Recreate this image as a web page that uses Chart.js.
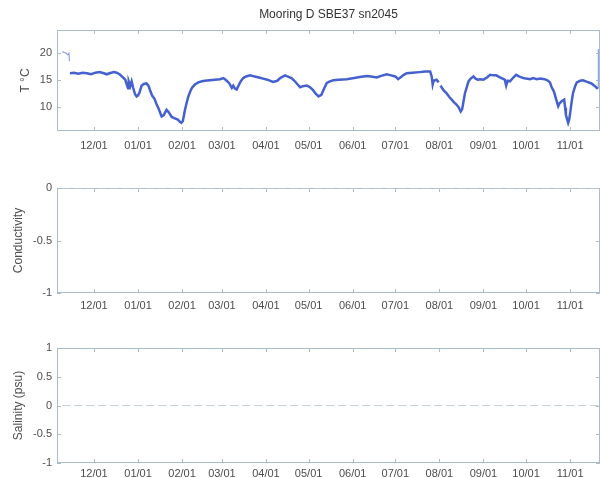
<!DOCTYPE html>
<html>
<head>
<meta charset="utf-8">
<script src="https://cdn.jsdelivr.net/npm/chart.js@4.4.1/dist/chart.umd.min.js"></script>
<style>
  html, body { margin: 0; padding: 0; background: #fff; overflow: hidden; }
  .panel { position: absolute; left: 0; width: 600px; }
  #p1 { top: 0; height: 160px; }
  #p2 { top: 176px; height: 137px; }
  #p3 { top: 336px; height: 142px; }
</style>
</head>
<body>
<div class="panel" id="p1"><canvas id="tempChart"></canvas></div>
<div class="panel" id="p2"><canvas id="condChart"></canvas></div>
<div class="panel" id="p3"><canvas id="salChart"></canvas></div>
<script>
// Time axis: days since 2010-12-01
let xMin = -26;
let xMax = 356;
let monthDays = [0, 31, 62, 90, 121, 151, 182, 212, 243, 274, 304, 335];
let monthLabels = ["12/01", "01/01", "02/01", "03/01", "04/01", "05/01", "06/01", "07/01", "08/01", "09/01", "10/01", "11/01"];

// Temperature record (null = gap)
let tempDays = [-16.9, -14, -11, -8, -5, -2, 1, 4, 7, 9, 11, 14, 16, 18, 20.6, 22, 23, 24, 24.5, 25.5, 26.5, 27.5, 28.9, 30, 31, 32, 33.5, 35, 37, 38.5,
  39.4, 41, 42.5, 44, 45.5, 47.6, 49, 51, 52.5, 54.7, 56.5, 59, 60.5, 61.5, 62.5, 64, 65, 66.4, 68, 69, 71, 73.4, 76, 78, 81.6, 85, 88.7, 91, 93, 95,
  97, 98, 99, 100.4, 101.5, 103, 105, 107, 109.8, 113, 116, 119, 122, 126, 129, 131, 134.4, 136, 139, 141, 143, 145, 147, 149.7, 152, 154, 156, 158, 160, 162,
  163.8, 166, 168.4, 172, 177.8, 183, 187, 192, 195, 199, 202, 206, 209, 212, 214, 216, 218, 220, 224, 229, 233, 236.5, 237.6, 238.3, 239, 241, 242.5, 243.2,
  243.8, 246, 248, 250, 251.7, 253, 255, 256.5, 258, 259, 260, 261, 263.5, 265, 267, 268.5, 270, 272, 274, 276.5, 278.7, 281, 283, 286, 289, 290, 291, 292.7,
  295, 297, 299, 302, 304, 306.8, 309, 311.5, 314, 317, 319, 320.8, 322, 323.6, 325, 326.6, 327.5, 329, 330.8, 331.5, 332, 333.6, 334.3, 335, 336, 337,
  338.5, 339.7, 342, 344, 347, 350, 352, 353.7, 354.5];
let tempVals = [16.2, 16.3, 16.1, 16.3, 16.2, 16.0, 16.3, 16.4, 16.2, 16.0, 16.2, 16.4, 16.3, 16.0, 15.4, 15.0, 14.2, 13.4, 14.6, 13.8, 14.7, 13.6, 12.3, 11.9, 12.1, 12.6, 13.9, 14.2, 14.3, 13.8,
  13.1, 12.0, 11.5, 10.5, 9.6, 8.2, 8.4, 9.4, 9.0, 8.1, 7.9, 7.6, 7.2, 7.0, 7.3, 9.4, 10.5, 11.9, 13.0, 13.5, 14.1, 14.5, 14.7, 14.8, 14.9, 15.0, 15.1, 15.3, 14.9, 14.4,
  13.5, 13.9, 13.4, 13.2, 13.8, 14.6, 15.3, 15.6, 15.8, 15.6, 15.4, 15.2, 15.0, 14.6, 14.8, 15.3, 15.8, 15.6, 15.3, 14.8, 14.2, 13.6, 13.8, 13.9, 13.6, 13.1, 12.4, 11.9, 12.2, 13.4,
  14.4, 14.7, 14.9, 15.0, 15.1, 15.3, 15.5, 15.7, 15.6, 15.4, 15.7, 16.0, 15.8, 15.6, 15.1, 15.5, 15.9, 16.2, 16.3, 16.4, 16.5, 16.5, 15.6, 14.1, 14.8, 15.0, 14.5, null,
  13.9, 13.0, 12.5, 11.8, 11.3, 10.9, 10.4, 9.9, 9.1, 9.5, 11.0, 12.5, 14.7, 15.2, 15.6, 15.2, 15.0, 15.1, 15.0, 15.4, 15.9, 15.8, 15.8, 15.4, 15.0, 13.9, 14.8, 14.7,
  15.4, 15.9, 15.6, 15.3, 15.2, 15.1, 15.3, 15.1, 15.2, 15.1, 14.9, 14.5, 13.6, 12.8, 11.5, 10.1, 10.6, 11.0, 11.3, 9.8, 8.5, 7.0, 7.6, 8.8, 10.8, 12.5,
  13.8, 14.5, 14.8, 14.9, 14.6, 14.3, 13.9, 13.5, 13.3];

// Readings before deployment and after recovery (in air)
let airDays = [-22.3, -20.5, -19.5, -18.5, -17.6, -17.2, null, 354.6, 354.8, 354.9];
let airVals = [20.2, 20.0, 19.9, 19.6, 19.9, 18.4, null, 13.5, 16.9, 20.7];

// Conductivity and salinity both sit at zero
let condDays = [-22.3, 354.9];
let condVals = [0, 0];
let salDays = [-22.3, 354.9];
let salVals = [0, 0];

let tempTicks = [10, 15, 20];
let condTicks = [-1, -0.5, 0];
let salTicks = [-1, -0.5, 0, 0.5, 1];

const AXIS_COLOR = "#a9bccb";
const TEXT_COLOR = "#4d4d4d";
const FONT = "'Liberation Sans', Arial, sans-serif";

function toPoints(days, vals) {
    return days.map((d, i) => ({ x: d, y: vals[i] }));
}

// MATLAB-style box with inward tick marks
const boxPlugin = {
    id: "matlabBox",
    beforeDatasetsDraw(chart) {
        const { ctx, chartArea: a, scales: { x, y } } = chart;
        ctx.save();
        ctx.strokeStyle = AXIS_COLOR;
        ctx.lineWidth = 1;
        ctx.strokeRect(a.left + 0.5, a.top + 0.5, a.right - a.left - 1, a.bottom - a.top - 1);
        ctx.beginPath();
        x.ticks.forEach(t => {
            let px = Math.round(x.getPixelForValue(t.value)) + 0.5;
            ctx.moveTo(px, a.bottom); ctx.lineTo(px, a.bottom - 4);
            ctx.moveTo(px, a.top); ctx.lineTo(px, a.top + 4);
        });
        y.ticks.forEach(t => {
            let py = Math.round(y.getPixelForValue(t.value)) + 0.5;
            ctx.moveTo(a.left, py); ctx.lineTo(a.left + 4, py);
            ctx.moveTo(a.right, py); ctx.lineTo(a.right - 4, py);
        });
        ctx.stroke();
        ctx.restore();
    }
};

function makePanel(id, datasets, yMin, yMax, yTicks, yTitle, titlePad, xHeight, xPad, topPad, title) {
    let ctx = document.getElementById(id).getContext("2d");
    return new Chart(ctx, {
        type: "line",
        data: { datasets: datasets },
        plugins: [boxPlugin],
        options: {
            animation: false,
            responsive: true,
            maintainAspectRatio: false,
            layout: { padding: { top: topPad, left: 0, right: 0, bottom: 0 } },
            elements: { point: { radius: 0 }, line: { tension: 0 } },
            plugins: {
                legend: { display: false },
                tooltip: { enabled: false },
                title: {
                    display: !!title,
                    text: title,
                    fullSize: false,
                    color: "#333",
                    font: { family: FONT, size: 12, weight: "normal" },
                    padding: { top: 7, bottom: 8.6 }
                }
            },
            scales: {
                x: {
                    type: "linear",
                    min: xMin,
                    max: xMax,
                    grid: { display: false, drawTicks: false },
                    border: { display: false },
                    afterBuildTicks: s => { s.ticks = monthDays.map(v => ({ value: v })); },
                    afterFit: s => { s.height = xHeight; },
                    ticks: {
                        autoSkip: false,
                        maxRotation: 0,
                        padding: xPad,
                        color: TEXT_COLOR,
                        font: { family: FONT, size: 11 },
                        callback: (v, i) => monthLabels[i]
                    }
                },
                y: {
                    type: "linear",
                    min: yMin,
                    max: yMax,
                    grid: { display: false, drawTicks: false },
                    border: { display: false },
                    afterBuildTicks: s => { s.ticks = yTicks.map(v => ({ value: v })); },
                    afterFit: s => { s.width = 57; },
                    ticks: {
                        padding: 5,
                        color: TEXT_COLOR,
                        font: { family: FONT, size: 11 },
                        callback: v => String(v)
                    },
                    title: {
                        display: true,
                        text: yTitle,
                        color: TEXT_COLOR,
                        font: { family: FONT, size: 12 },
                        padding: { top: titlePad, bottom: 0 }
                    }
                }
            }
        }
    });
}

// Temperature panel
makePanel("tempChart", [
    { data: toPoints(airDays, airVals), borderColor: "#8fa3e4", borderWidth: 1.2, spanGaps: false },
    { data: toPoints(tempDays, tempVals), borderColor: "#4560cf", borderWidth: 2.5, spanGaps: false }
], 5.5, 24.2, tempTicks, "T °C", 18.4, 29, 8, 0, "Mooring D SBE37 sn2045");

// Conductivity panel
makePanel("condChart", [
    { data: toPoints(condDays, condVals), borderColor: "#c5d2de", borderWidth: 1, borderDash: [8, 4] }
], -1, 0, condTicks, "Conductivity", 11.4, 20, 6.5, 12, "");

// Salinity panel
makePanel("salChart", [
    { data: toPoints(salDays, salVals), borderColor: "#c5d2de", borderWidth: 1, borderDash: [8, 4] }
], -1, 1, salTicks, "Salinity (psu)", 11.4, 15, 4.5, 12, "");
</script>
</body>
</html>
